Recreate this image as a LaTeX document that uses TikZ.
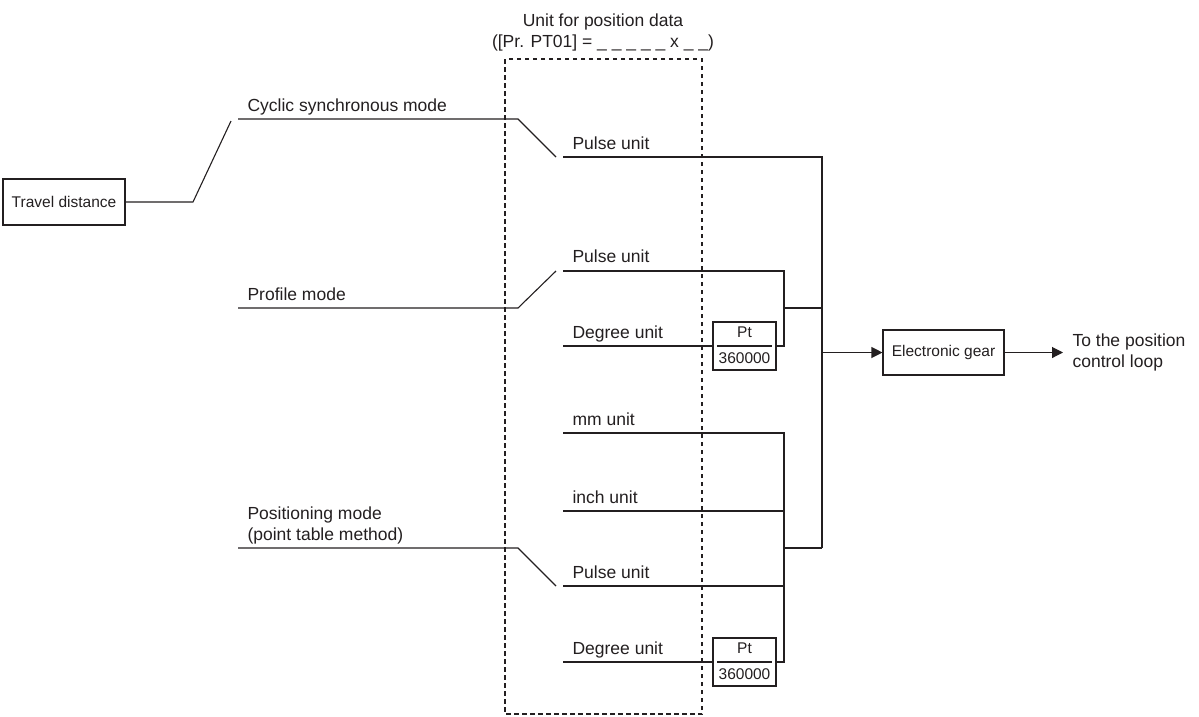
\documentclass[tikz,border=0pt]{standalone}
\usepackage{fontspec}
\setmainfont{Liberation Sans}
\usepackage{xcolor}
\usetikzlibrary{arrows.meta,positioning}
\definecolor{dgInk}{RGB}{35,31,32}

\begin{document}
\begin{tikzpicture}[x=1pt,y=-1pt, line width=1.1pt, draw=dgInk, text=dgInk,
  lbl/.style={font=\fontsize{17.5}{21}\selectfont, inner sep=0pt},
  boxlbl/.style={draw, font=\fontsize{15.5}{18}\selectfont, inner sep=0pt},
  small/.style={font=\fontsize{15.5}{18}\selectfont, inner sep=0pt},
  flow/.style={-{Triangle[length=11pt,width=11pt]}}]
\useasboundingbox (0,0) rectangle (1199,716);

% unit for position data
\node[lbl, anchor=base] (title1) at (603,26) {Unit for position data};
\node[lbl, anchor=base] (title2) at (603,47) {([Pr. PT01] = \_ \_ \_ \_ \_ x \_ \_)};
\draw[dash pattern=on 4.5pt off 3.5pt] (505,59) rectangle (702,714);

% travel distance and selector
\node[boxlbl, minimum width=122pt, minimum height=46pt] (travel) at (64,202) {Travel distance};
\coordinate (tr1) at (193,202);
\coordinate (tr2) at (231,121);
\draw (travel.east) -- (tr1) -- (tr2);

% modes
\node[lbl, anchor=base west] (cyc) at (247,111) {Cyclic synchronous mode};
\node[lbl, anchor=base west] (prof) at (247,300) {Profile mode};
\node[lbl, anchor=base west] (pos1) at (247,519) {Positioning mode};
\node[lbl, anchor=base west] (pos2) at (247,540) {(point table method)};
\coordinate (cycA) at (238,119);
\coordinate (cycB) at (518,119);
\coordinate (cycC) at (556,157);
\coordinate (profA) at (238,308);
\coordinate (profB) at (518,308);
\coordinate (profC) at (556,271);
\coordinate (posA) at (238,548);
\coordinate (posB) at (518,548);
\coordinate (posC) at (556,586);
\draw (cycA) -- (cycB) -- (cycC);
\draw (profA) -- (profB) -- (profC);
\draw (posA) -- (posB) -- (posC);

% unit lines
\node[lbl, anchor=base west] (u1) at (572,149) {Pulse unit};
\node[lbl, anchor=base west] (u2) at (572,262) {Pulse unit};
\node[lbl, anchor=base west] (u3) at (572,338) {Degree unit};
\node[lbl, anchor=base west] (u4) at (572,425) {mm unit};
\node[lbl, anchor=base west] (u5) at (572,503) {inch unit};
\node[lbl, anchor=base west] (u6) at (572,578) {Pulse unit};
\node[lbl, anchor=base west] (u7) at (572,654) {Degree unit};
\coordinate (s1) at (563,157);
\coordinate (s2) at (563,271);
\coordinate (s3) at (563,346);
\coordinate (s4) at (563,433);
\coordinate (s5) at (563,511);
\coordinate (s6) at (563,586);
\coordinate (s7) at (563,662);

% degree conversion
\node[boxlbl, minimum width=63pt, minimum height=48pt] (ptA) at (744.5,346) {};
\node[small, above=7.5pt of ptA.center] (ptAn) {Pt};
\node[small, below=6.5pt of ptA.center] (ptAd) {360000};
\draw ([xshift=5pt]ptA.west) -- ([xshift=-5pt]ptA.east);
\node[boxlbl, minimum width=63pt, minimum height=48pt] (ptB) at (744.5,662) {};
\node[small, above=7.5pt of ptB.center] (ptBn) {Pt};
\node[small, below=6.5pt of ptB.center] (ptBd) {360000};
\draw ([xshift=5pt]ptB.west) -- ([xshift=-5pt]ptB.east);

% buses
\coordinate (busT) at (822,157);
\coordinate (busB) at (822,548);
\coordinate (busM) at (822,352.5);
\coordinate (pjT) at (784,271);
\coordinate (pjM) at (784,308);
\coordinate (pjB) at (784,346);
\coordinate (qjT) at (784,433);
\coordinate (qj2) at (784,511);
\coordinate (qjM) at (784,548);
\coordinate (qj3) at (784,586);
\coordinate (qjB) at (784,662);
\draw (s1) -- (busT) -- (busB);
\draw (s2) -- (pjT) -- (pjB) -- (ptA.east);
\draw (s3) -- (ptA.west);
\draw (pjM) -- (pjM -| busT);
\draw (s4) -- (qjT) -- (qjB) -- (ptB.east);
\draw (s5) -- (qj2);
\draw (s6) -- (qj3);
\draw (s7) -- (ptB.west);
\draw (qjM) -- (busB);

% electronic gear
\node[boxlbl, minimum width=121pt, minimum height=45pt] (gear) at (943.5,352.5) {Electronic gear};
\coordinate (outTip) at (1063,352.5);
\node[lbl, anchor=west, align=left] (loop) at (1072,352.5) {To the position\\control loop};
\draw[flow] (busM) -- (gear.west);
\draw[flow] (gear.east) -- (outTip);
\end{tikzpicture}
\end{document}
